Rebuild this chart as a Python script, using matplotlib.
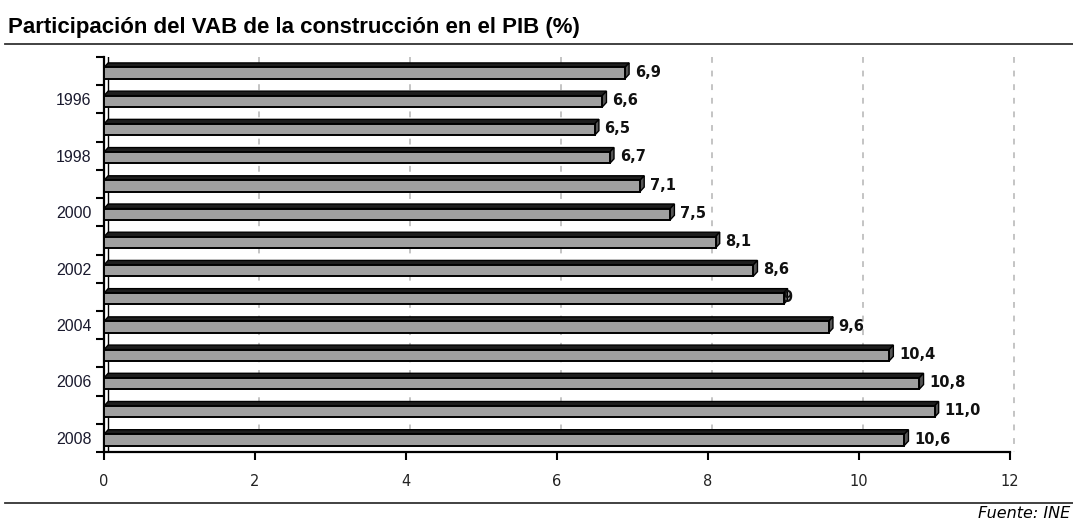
"""VAB construction share of GDP, 1995-2008 (3D-look horizontal bars)."""
import matplotlib.pyplot as plt
import numpy as np
from matplotlib.patches import Polygon

years = np.arange(1995, 2009)
values = np.array([6.9, 6.6, 6.5, 6.7, 7.1, 7.5, 8.1, 8.6, 9.0, 9.6, 10.4, 10.8, 11.0, 10.6])
labels = ["6,9", "6,6", "6,5", "6,7", "7,1", "7,5", "8,1", "8,6", "9", "9,6",
          "10,4", "10,8", "11,0", "10,6"]
xticks = np.arange(0, 13, 2)

BAR = "#a0a0a0"
DARK = "#1e1e1e"
GRID = "#c4c4c4"

fig = plt.figure(figsize=(10.73, 5.21), dpi=100)
ax = fig.add_axes([104 / 1073, 1 - 452 / 521, 906 / 1073, 395 / 521])

pos = np.arange(len(years))
h = 0.40          # front face height (category units)
dx, dy = 0.055, 0.16   # 3D depth offsets
shift = 0.07

# back-wall gridlines, offset by the depth
ax.vlines(xticks[1:] + dx, -0.5, 13.5, colors=GRID, linestyles=(0, (3, 4)), lw=1.4,
          zorder=0, clip_on=False)
ax.axvline(dx, color="black", lw=1.0, zorder=1)

for p, v in zip(pos, values):
    yc = p + shift
    top = yc - h / 2
    bot = yc + h / 2
    ax.add_patch(Polygon([(0, top), (v, top), (v + dx, top - dy), (dx, top - dy)],
                         closed=True, fc=DARK, ec="black", lw=1.0, zorder=3))
    ax.add_patch(Polygon([(v, top), (v + dx, top - dy), (v + dx, bot - dy), (v, bot)],
                         closed=True, fc="#555555", ec="black", lw=1.0, zorder=3))
ax.barh(pos + shift, values, height=h, color=BAR, edgecolor="black", lw=1.4, zorder=4)

for p, v, lab in zip(pos, values, labels):
    if "," in lab:
        ax.text(v + 0.13, p + shift - 0.03, lab, ha="left", va="center",
                fontsize=10.5, fontweight="bold", family="DejaVu Sans", color="#111111", zorder=5)
    else:
        ax.text(v + 0.05, p + shift - 0.03, lab, ha="center", va="center", fontsize=10.5,
                fontweight="bold", family="DejaVu Sans", color="#111111", zorder=3.5)

ax.set_xlim(0, 12)
ax.set_ylim(13.5, -0.5)
ax.set_xticks(xticks)
ax.set_xticklabels([str(t) for t in xticks], family="DejaVu Sans", fontsize=10.5, color="#222222")
ax.set_yticks(np.arange(-0.5, 14, 1))
ax.set_yticklabels([])
ax.set_yticks(pos[1::2], minor=True)
ax.set_yticklabels([str(y) for y in years[1::2]], minor=True,
                   family="Liberation Sans", fontsize=11.5, color="#1a1a2e")
ax.tick_params(axis="y", which="major", direction="out", length=6, width=1.5)
ax.tick_params(axis="y", which="minor", length=0, pad=9)
ax.tick_params(axis="x", direction="out", length=6, width=1.5, pad=10)
for s in ["top", "right"]:
    ax.spines[s].set_visible(False)
ax.spines["left"].set_linewidth(1.6)
ax.spines["bottom"].set_linewidth(1.6)

fig.text(8 / 1073, 1 - 27 / 521, "Participación del VAB de la construcción en el PIB (%)",
         family="Liberation Sans", fontweight="bold", fontsize=16, va="center", ha="left")
fig.add_artist(plt.Line2D([5 / 1073, 1], [1 - 44 / 521] * 2, color="#333333", lw=1.3))
fig.add_artist(plt.Line2D([5 / 1073, 1], [1 - 503 / 521] * 2, color="#333333", lw=1.3))
fig.text(1070 / 1073, 1 - 514 / 521, "Fuente: INE", family="DejaVu Sans", style="italic",
         fontsize=11.5, va="center", ha="right")

fig.savefig("out.png", dpi=100)
